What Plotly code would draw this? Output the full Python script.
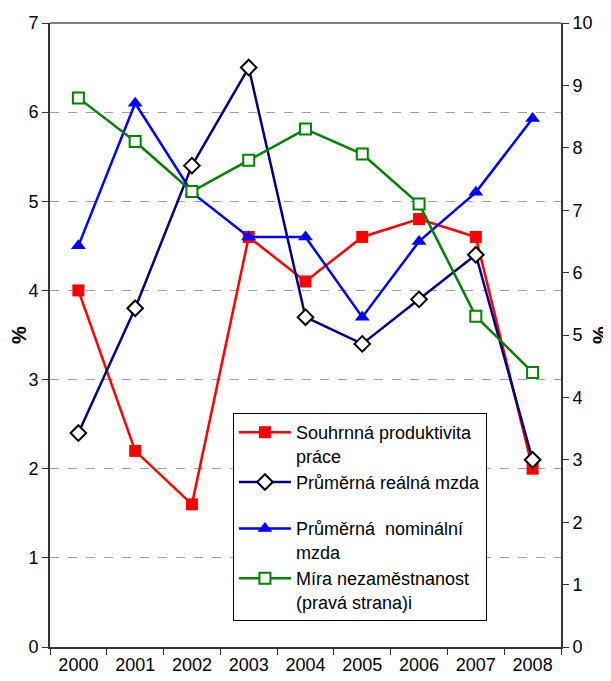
import plotly.graph_objects as go

years = ["2000", "2001", "2002", "2003", "2004", "2005", "2006", "2007", "2008"]
produktivita = [4.0, 2.2, 1.6, 4.6, 4.1, 4.6, 4.8, 4.6, 2.0]
realna_mzda = [2.4, 3.8, 5.4, 6.5, 3.7, 3.4, 3.9, 4.4, 2.1]
nominalni_mzda = [4.5, 6.1, 5.1, 4.6, 4.6, 3.7, 4.55, 5.1, 5.93]
nezamestnanost = [8.8, 8.1, 7.3, 7.8, 8.3, 7.9, 7.1, 5.3, 4.4]

names = [
    "Souhrnná produktivita<br>práce",
    "Průměrná reálná mzda",
    "Průměrná  nominální<br>mzda",
    "Míra nezaměstnanost<br>(pravá strana)i",
]

FONT = "Liberation Sans, Arial, sans-serif"

fig = go.Figure()
fig.add_trace(go.Scatter(
    x=years, y=produktivita, name=names[0], mode="lines+markers", legendgroup="a",
    line=dict(color="#FF0000", width=2.5),
    marker=dict(symbol="square", size=12, color="#FF0000"),
))
fig.add_trace(go.Scatter(
    x=years, y=realna_mzda, name=names[1], mode="lines+markers", legendgroup="a",
    line=dict(color="#000080", width=2.5),
    marker=dict(symbol="diamond", size=12, color="white", line=dict(color="black", width=2)),
))
fig.add_trace(go.Scatter(
    x=years, y=nominalni_mzda, name=names[2], mode="lines+markers", legendgroup="b",
    line=dict(color="#0000FF", width=2.5),
    marker=dict(symbol="triangle-up", size=13, color="#0000FF"),
))
fig.add_trace(go.Scatter(
    x=years, y=nezamestnanost, name=names[3], mode="lines+markers", yaxis="y2",
    legendgroup="b",
    line=dict(color="#008000", width=2.5),
    marker=dict(symbol="square", size=11, color="white", line=dict(color="#008000", width=2)),
))

fig.update_layout(
    width=603, height=673,
    margin=dict(l=42, r=50, t=15, b=34),
    paper_bgcolor="white", plot_bgcolor="white",
    font=dict(family=FONT, size=18, color="black"),
    showlegend=True,
    legend=dict(
        x=0.358, y=0.375, xanchor="left", yanchor="top",
        bgcolor="white", bordercolor="black", borderwidth=1,
        font=dict(family=FONT, size=18, color="black"),
        valign="top", traceorder="grouped", tracegroupgap=20, itemwidth=52,
    ),
    xaxis=dict(
        type="category", tickson="boundaries", ticks="outside", ticklen=6,
        tickcolor="#333333", showline=True, linecolor="#333333", linewidth=2,
        showgrid=False, tickfont=dict(size=18), range=[-0.5, 8.5],
        automargin=False,
    ),
    yaxis=dict(
        range=[0, 7], dtick=1, ticks="outside", ticklen=6, tickcolor="#333333",
        showline=True, linecolor="#333333", linewidth=2,
        showgrid=True, gridcolor="#A0A0A0", griddash="dash", gridwidth=1,
        zeroline=False, automargin=False,
        title=dict(text="<b>%</b>", font=dict(size=20), standoff=6),
        tickfont=dict(size=18),
    ),
    yaxis2=dict(
        range=[0, 10], dtick=1, overlaying="y", side="right",
        ticks="outside", ticklen=6, tickcolor="#333333",
        showline=True, linecolor="#333333", linewidth=2,
        showgrid=False, zeroline=False, automargin=False,
        title=dict(text="<b>%</b>", font=dict(size=20), standoff=6),
        tickfont=dict(size=18),
    ),
    shapes=[dict(type="line", xref="paper", yref="paper", x0=0, x1=1, y0=1, y1=1,
                 line=dict(color="#808080", width=2))],
)

fig.write_html("out.html")
